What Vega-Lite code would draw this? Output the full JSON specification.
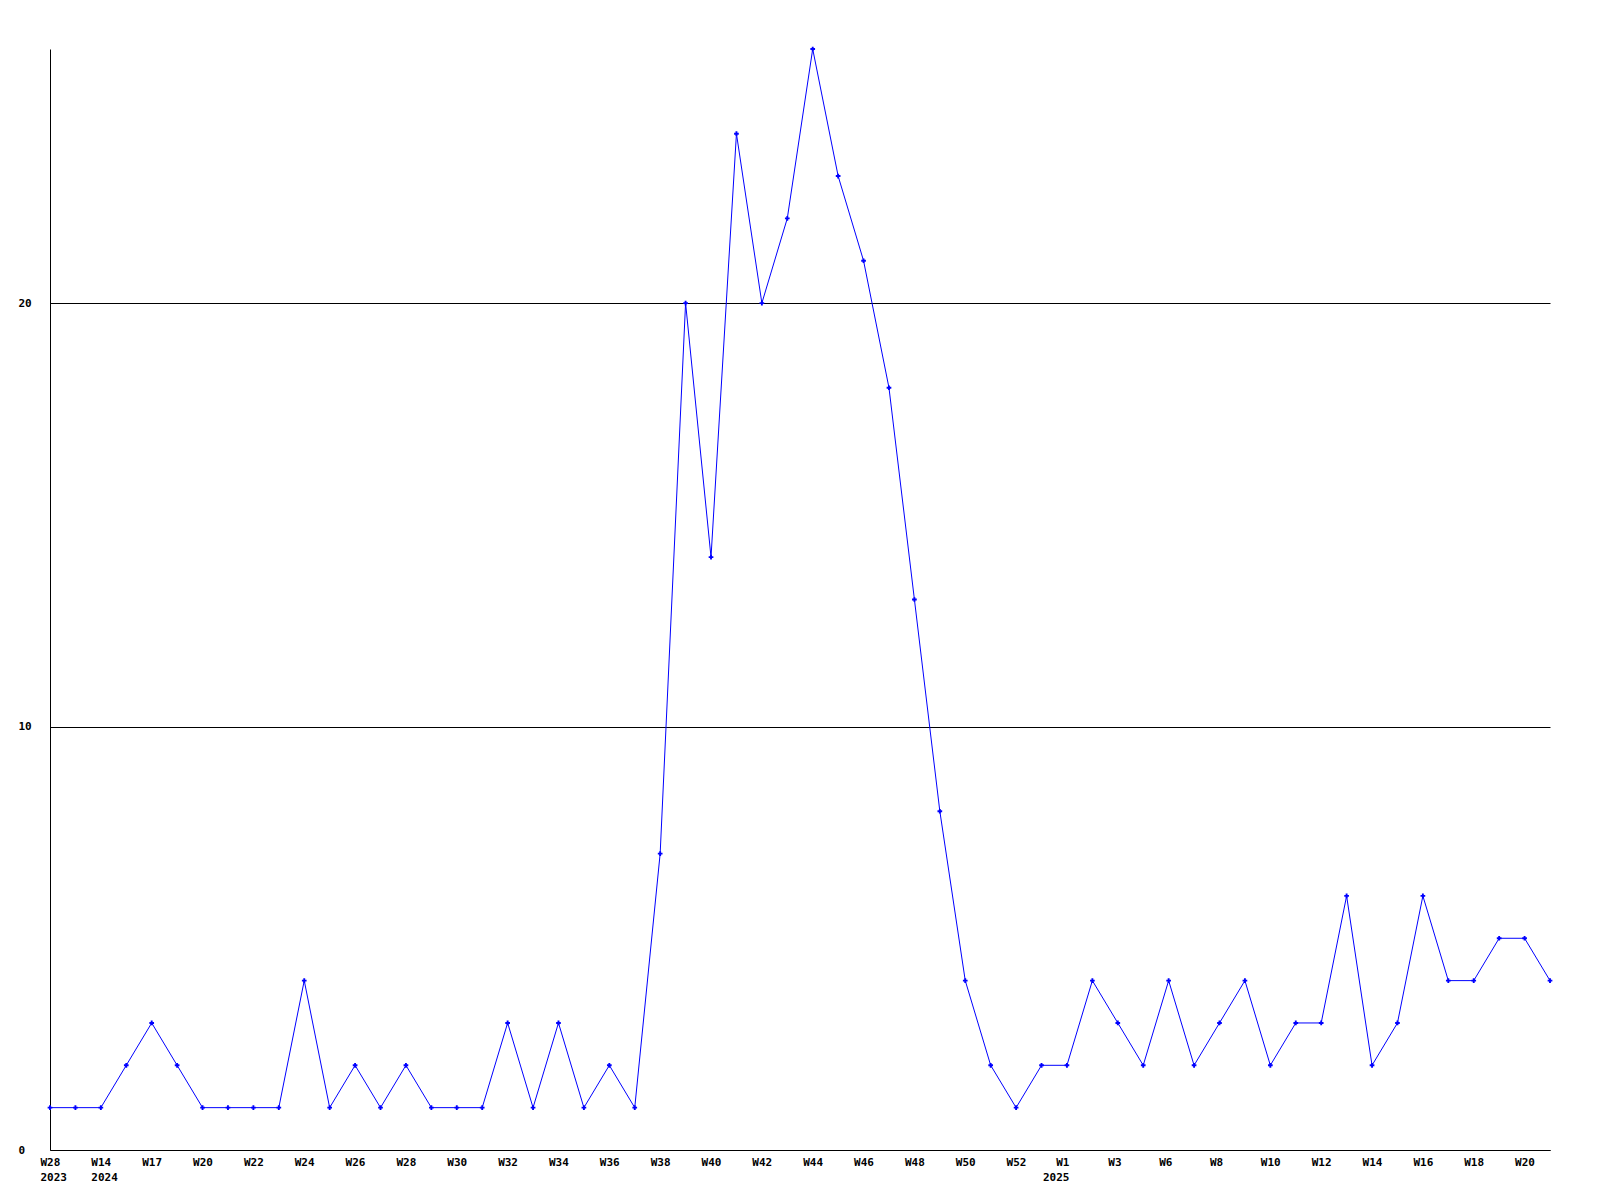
{
  "$schema": "https://vega.github.io/schema/vega-lite/v6.json",
  "width": 1500,
  "height": 1101,
  "autosize": "none",
  "padding": {"left": 50, "top": 49, "right": 50, "bottom": 50},
  "background": "white",
  "config": {"view": {"stroke": null}},
  "data": {"values": [
    {"week": "2023-W28", "value": 1},
    {"week": "2023-W30", "value": 1},
    {"week": "2024-W14", "value": 1},
    {"week": "2024-W15", "value": 2},
    {"week": "2024-W17", "value": 3},
    {"week": "2024-W18", "value": 2},
    {"week": "2024-W20", "value": 1},
    {"week": "2024-W21", "value": 1},
    {"week": "2024-W22", "value": 1},
    {"week": "2024-W23", "value": 1},
    {"week": "2024-W24", "value": 4},
    {"week": "2024-W25", "value": 1},
    {"week": "2024-W26", "value": 2},
    {"week": "2024-W27", "value": 1},
    {"week": "2024-W28", "value": 2},
    {"week": "2024-W29", "value": 1},
    {"week": "2024-W30", "value": 1},
    {"week": "2024-W31", "value": 1},
    {"week": "2024-W32", "value": 3},
    {"week": "2024-W33", "value": 1},
    {"week": "2024-W34", "value": 3},
    {"week": "2024-W35", "value": 1},
    {"week": "2024-W36", "value": 2},
    {"week": "2024-W37", "value": 1},
    {"week": "2024-W38", "value": 7},
    {"week": "2024-W39", "value": 20},
    {"week": "2024-W40", "value": 14},
    {"week": "2024-W41", "value": 24},
    {"week": "2024-W42", "value": 20},
    {"week": "2024-W43", "value": 22},
    {"week": "2024-W44", "value": 26},
    {"week": "2024-W45", "value": 23},
    {"week": "2024-W46", "value": 21},
    {"week": "2024-W47", "value": 18},
    {"week": "2024-W48", "value": 13},
    {"week": "2024-W49", "value": 8},
    {"week": "2024-W50", "value": 4},
    {"week": "2024-W51", "value": 2},
    {"week": "2024-W52", "value": 1},
    {"week": "2024-W53", "value": 2},
    {"week": "2025-W1", "value": 2},
    {"week": "2025-W2", "value": 4},
    {"week": "2025-W3", "value": 3},
    {"week": "2025-W4", "value": 2},
    {"week": "2025-W6", "value": 4},
    {"week": "2025-W7", "value": 2},
    {"week": "2025-W8", "value": 3},
    {"week": "2025-W9", "value": 4},
    {"week": "2025-W10", "value": 2},
    {"week": "2025-W11", "value": 3},
    {"week": "2025-W12", "value": 3},
    {"week": "2025-W13", "value": 6},
    {"week": "2025-W14", "value": 2},
    {"week": "2025-W15", "value": 3},
    {"week": "2025-W16", "value": 6},
    {"week": "2025-W17", "value": 4},
    {"week": "2025-W18", "value": 4},
    {"week": "2025-W19", "value": 5},
    {"week": "2025-W20", "value": 5},
    {"week": "2025-W21", "value": 4}
  ]},
  "encoding": {
    "x": {
      "field": "week",
      "type": "ordinal",
      "sort": null,
      "scale": {"type": "point", "padding": 0},
      "axis": {
        "title": null,
        "values": ["2023-W28","2024-W14","2024-W17","2024-W20","2024-W22","2024-W24","2024-W26","2024-W28","2024-W30","2024-W32","2024-W34","2024-W36","2024-W38","2024-W40","2024-W42","2024-W44","2024-W46","2024-W48","2024-W50","2024-W52","2025-W1","2025-W3","2025-W6","2025-W8","2025-W10","2025-W12","2025-W14","2025-W16","2025-W18","2025-W20"],
        "labelExpr": "indexof(['2023-W28','2024-W14','2025-W1'], datum.value) >= 0 ? [substring(datum.value, 5), substring(datum.value, 0, 4)] : substring(datum.value, 5)",
        "labelAngle": 0,
        "labelAlign": {"condition": {"test": "datum.value == '2025-W1'", "value": "right"}, "value": "left"},
        "labelBaseline": "top",
        "labelOffset": {"condition": {"test": "datum.value == '2025-W1'", "value": 2}, "value": -10},
        "labelPadding": 6,
        "labelLineHeight": 15,
        "labelFont": "DejaVu Sans Mono",
        "labelFontWeight": "bold",
        "labelFontSize": 11,
        "labelColor": "black",
        "labelOverlap": false,
        "ticks": false,
        "domainColor": "black",
        "domainWidth": 1,
        "grid": false
      }
    },
    "y": {
      "field": "value",
      "type": "quantitative",
      "scale": {"domain": [0, 26], "nice": false, "zero": true},
      "axis": {
        "title": null,
        "values": [0, 10, 20],
        "labelAlign": "left",
        "labelPadding": 32,
        "labelFont": "DejaVu Sans Mono",
        "labelFontWeight": "bold",
        "labelFontSize": 11,
        "labelColor": "black",
        "ticks": false,
        "domainColor": "black",
        "grid": true,
        "gridColor": "black",
        "gridOpacity": 1,
        "gridWidth": 1
      }
    }
  },
  "layer": [
    {"mark": {"type": "line", "color": "#0000ff", "strokeWidth": 1}},
    {"mark": {"type": "point", "shape": "cross", "filled": true, "color": "#0000ff", "size": 22, "opacity": 1}}
  ]
}
